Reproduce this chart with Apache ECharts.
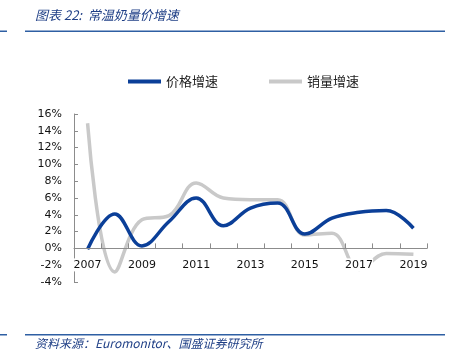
<!DOCTYPE html>
<html><head><meta charset="utf-8">
<script src="https://cdn.jsdelivr.net/npm/echarts@6/dist/echarts.min.js"></script>
<style>html,body{margin:0;padding:0;background:#fff}#c{width:452px;height:359px}</style>
</head><body><div id="c"></div>
<script>
var years = ['2007','2008','2009','2010','2011','2012','2013','2014','2015','2016','2017','2018','2019'];
var priceGrowth = [-0.1, 4.1, 0.3, 3.2, 6.0, 2.7, 4.8, 5.4, 1.7, 3.6, 4.3, 4.5, 2.4];
var volumeGrowth = [14.9, -2.8, 3.4, 3.9, 7.8, 6.0, 5.8, 5.8, 1.6, 1.8, -2.5, -0.6, -0.7];
var yTicks = {min: -4, max: 16, step: 2};
var seriesNames = ['价格增速', '销量增速'];
var titleText = '图表 22:  常温奶量价增速';
var sourceText = '资料来源：Euromonitor、国盛证券研究所';

var gridTop = 114, gridBottom = 77, H = 359;
var plotH = H - gridTop - gridBottom;
var zeroOffset = -plotH * (0 - yTicks.min) / (yTicks.max - yTicks.min);

var chart = echarts.init(document.getElementById('c'), null, {renderer: 'canvas'});
var ruleColor = '#2e5fa3';
var textBlue = '#1f3f86';
chart.setOption({
  animation: false,
  backgroundColor: '#fff',
  grid: {left: 74, right: 25, top: gridTop, bottom: gridBottom, containLabel: false},
  legend: {
    left: 123, top: 70, itemWidth: 33, itemHeight: 4, itemGap: 51,
    icon: 'rect',
    textStyle: {fontFamily: 'Noto Sans CJK SC', fontSize: 13, color: '#222'},
    data: seriesNames
  },
  xAxis: {
    type: 'category', data: years, boundaryGap: true,
    offset: zeroOffset,
    axisLine: {onZero: false, lineStyle: {color: '#8c8c8c', width: 1}},
    axisTick: {show: true, inside: true, length: 5, interval: 0, lineStyle: {color: '#8c8c8c'}},
    axisLabel: {interval: 1, margin: 10, color: '#111', fontFamily: 'DejaVu Sans', fontSize: 11,
      backgroundColor: '#fff', padding: [1,0,1,0]},
    splitLine: {show: false},
    z: 5
  },
  yAxis: {
    type: 'value', min: yTicks.min, max: yTicks.max, interval: yTicks.step,
    axisLine: {show: true, lineStyle: {color: '#8c8c8c', width: 1}},
    axisTick: {show: true, inside: true, length: 4, lineStyle: {color: '#8c8c8c'}},
    axisLabel: {margin: 12, color: '#111', fontFamily: 'DejaVu Sans', fontSize: 11,
      formatter: function (v) { return v + '%'; }},
    splitLine: {show: false}
  },
  series: [
    {name: seriesNames[1], type: 'line', data: volumeGrowth, smooth: 0.4, showSymbol: false, symbol: 'none',
      z: 1, lineStyle: {color: '#c9c9c9', width: 3.5}, itemStyle: {color: '#c9c9c9'}},
    {name: seriesNames[0], type: 'line', data: priceGrowth, smooth: 0.4, showSymbol: false, symbol: 'none',
      z: 2, lineStyle: {color: '#0b3f98', width: 3.5}, itemStyle: {color: '#0b3f98'}}
  ],
  graphic: [
    {type: 'rect', shape: {x: 0, y: 30.5, width: 7, height: 1.5}, style: {fill: ruleColor}},
    {type: 'rect', shape: {x: 25, y: 30.5, width: 420, height: 1.5}, style: {fill: ruleColor}},
    {type: 'rect', shape: {x: 0, y: 334, width: 7, height: 1.5}, style: {fill: ruleColor}},
    {type: 'rect', shape: {x: 25, y: 334, width: 420, height: 1.5}, style: {fill: ruleColor}},
    {type: 'text', left: 35, top: 9, style: {text: titleText, fill: textBlue,
      font: 'italic 13px "Noto Sans CJK SC"'}},
    {type: 'text', left: 35, top: 337, style: {text: sourceText, fill: textBlue,
      font: 'italic 12px "Noto Sans CJK SC"'}}
  ]
});
</script></body></html>
